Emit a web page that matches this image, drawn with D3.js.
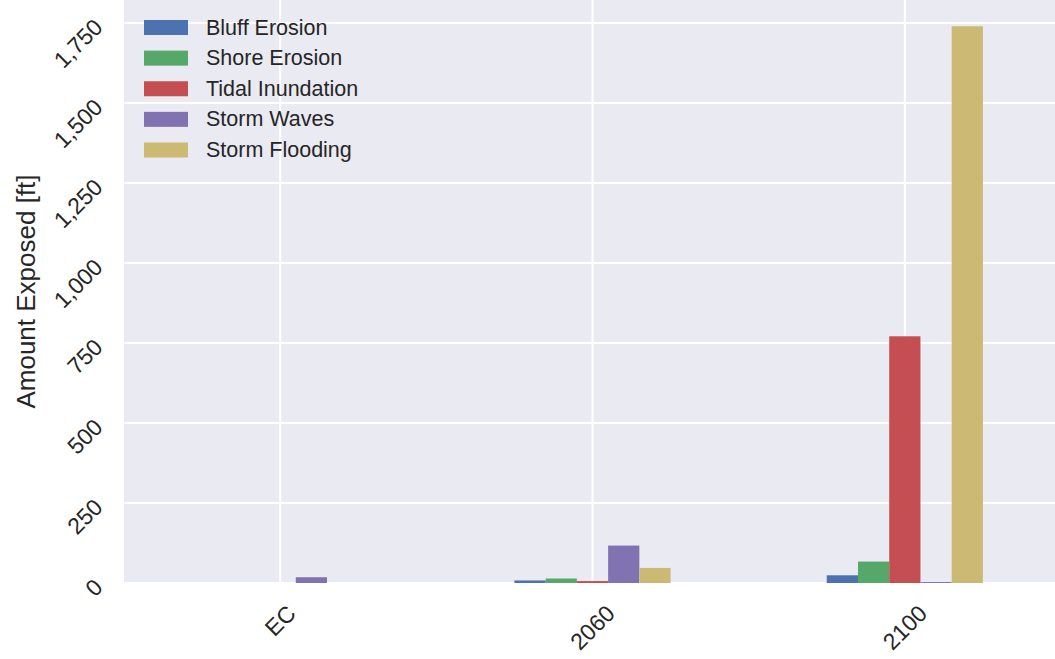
<!DOCTYPE html>
<html>
<head>
<meta charset="utf-8">
<script src="https://cdn.jsdelivr.net/npm/d3@7"></script>
<style>
  html, body { margin: 0; padding: 0; background: #ffffff; }
  svg { display: block; }
  text { font-family: "Liberation Sans", Arial, sans-serif; fill: #262626; }
</style>
</head>
<body>
<svg id="chart" width="1055" height="659"></svg>
<script>
// ---- data ----
const categories = ["EC", "2060", "2100"];
const seriesNames = ["Bluff Erosion", "Shore Erosion", "Tidal Inundation", "Storm Waves", "Storm Flooding"];
const bluffErosion    = [0, 8, 24];
const shoreErosion    = [0, 14, 67];
const tidalInundation = [0, 6, 771];
const stormWaves      = [18, 117, 3];
const stormFlooding   = [0, 47, 1740];
const yTicks = [0, 250, 500, 750, 1000, 1250, 1500, 1750];
const colors = ["#4C72B0", "#55A868", "#C44E52", "#8172B2", "#CCB974"];

const seriesValues = [bluffErosion, shoreErosion, tidalInundation, stormWaves, stormFlooding];

const svg = d3.select("#chart");
const plot = { left: 124, right: 1061, top: 0, bottom: 583 };

const x = d3.scaleBand().domain(categories).range([plot.left, plot.right]).paddingInner(0).paddingOuter(0);
const xInner = d3.scaleBand().domain(seriesNames)
  .range([x.bandwidth() * 0.25, x.bandwidth() * 0.75]).paddingInner(0).paddingOuter(0);
const y = d3.scaleLinear().domain([0, 1822]).range([plot.bottom, plot.top]);

// background
svg.append("rect").attr("x", plot.left).attr("y", plot.top)
  .attr("width", plot.right - plot.left).attr("height", plot.bottom - plot.top)
  .attr("fill", "#EAEAF2");

// grid
const grid = svg.append("g");
grid.selectAll("line.h").data(yTicks).enter().append("line")
  .attr("x1", plot.left).attr("x2", plot.right)
  .attr("y1", d => y(d)).attr("y2", d => y(d))
  .attr("stroke", "#ffffff").attr("stroke-width", 2);
grid.selectAll("line.v").data(categories).enter().append("line")
  .attr("y1", plot.top).attr("y2", plot.bottom)
  .attr("x1", d => x(d) + x.bandwidth() / 2).attr("x2", d => x(d) + x.bandwidth() / 2)
  .attr("stroke", "#ffffff").attr("stroke-width", 2);

// bars
const rows = [];
seriesNames.forEach((s, si) => {
  categories.forEach((c, ci) => {
    rows.push({ s, si, c, v: seriesValues[si][ci] });
  });
});
svg.append("g").selectAll("rect").data(rows).enter().append("rect")
  .attr("x", d => x(d.c) + xInner(d.s))
  .attr("width", xInner.bandwidth())
  .attr("y", d => y(d.v))
  .attr("height", d => y(0) - y(d.v))
  .attr("fill", d => colors[d.si]);

// y tick labels
const fmt = d3.format(",");
svg.append("g").selectAll("text").data(yTicks).enter().append("text")
  .attr("transform", d => `translate(98.5,${y(d)}) rotate(-45)`)
  .attr("text-anchor", "end")
  .attr("dominant-baseline", "central")
  .style("font-size", "23px")
  .text(d => fmt(d));

// x tick labels
svg.append("g").selectAll("text").data(categories).enter().append("text")
  .attr("text-anchor", "middle")
  .attr("dominant-baseline", "central")
  .style("font-size", "23px")
  .text(d => d)
  .each(function(d) {
    const w = this.getComputedTextLength();
    const cx = x(d) + x.bandwidth() / 2;
    const cy = 603 + 0.3535 * (w + 18);
    d3.select(this).attr("transform", `translate(${cx},${cy}) rotate(-45)`);
  });

// y axis title
svg.append("text")
  .attr("transform", `translate(35,${(plot.top + plot.bottom) / 2}) rotate(-90)`)
  .attr("text-anchor", "middle")
  .style("font-size", "26px")
  .text("Amount Exposed [ft]");

// legend
const legend = svg.append("g");
const legendY = d3.scalePoint().domain(seriesNames).range([27.5, 150]);
legend.selectAll("rect").data(seriesNames).enter().append("rect")
  .attr("x", 144).attr("width", 44)
  .attr("y", d => legendY(d) - 7.5).attr("height", 15)
  .attr("fill", (d, i) => colors[i]);
legend.selectAll("text").data(seriesNames).enter().append("text")
  .attr("x", 206).attr("y", d => legendY(d))
  .attr("dominant-baseline", "central")
  .style("font-size", "21.5px")
  .text(d => d);
</script>
</body>
</html>
